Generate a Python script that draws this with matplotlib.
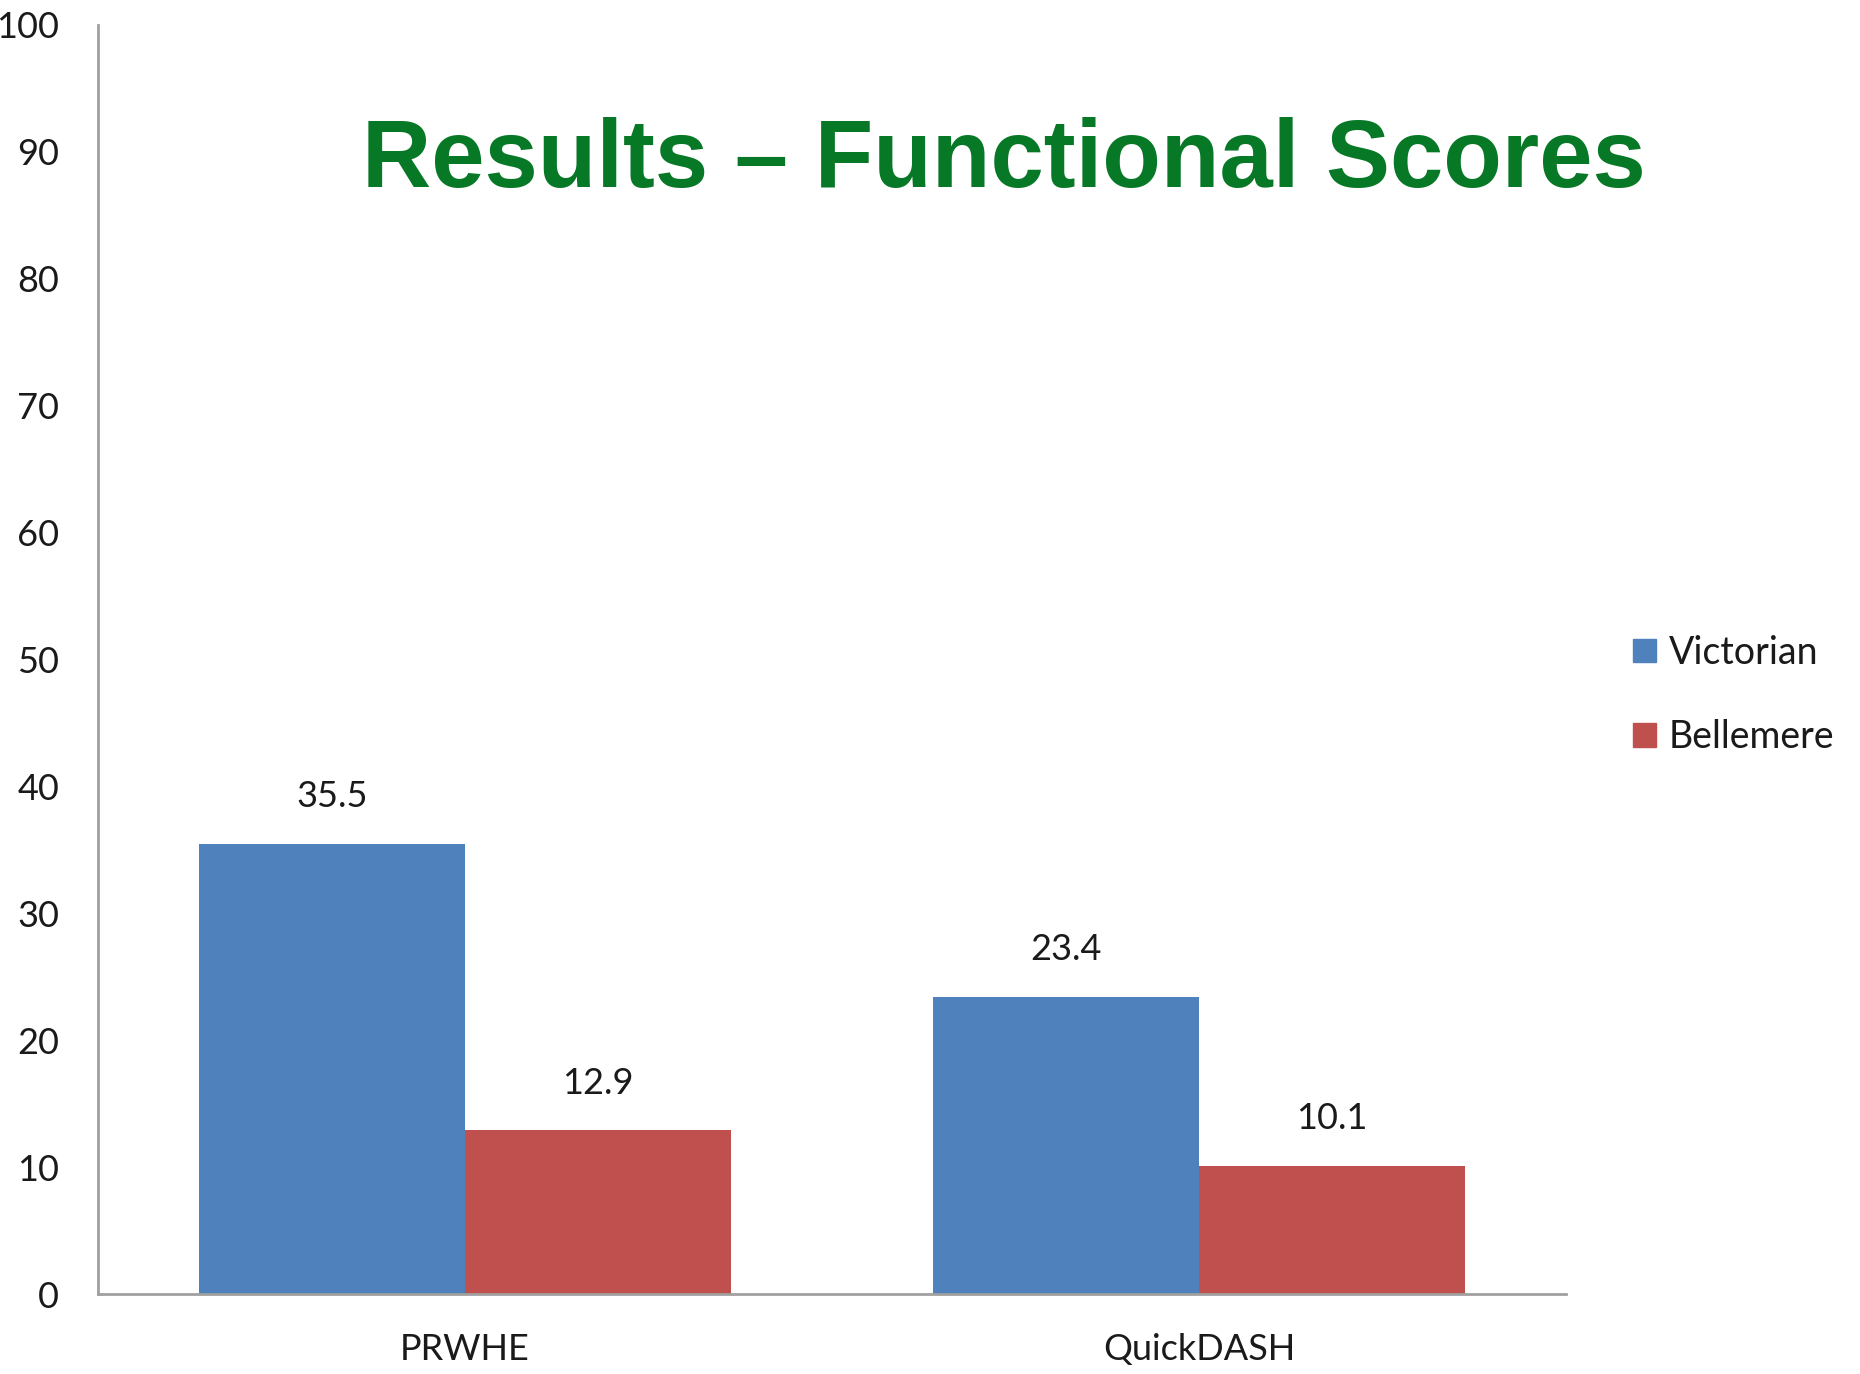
import matplotlib.pyplot as plt
import numpy as np
from matplotlib.patches import Patch

# Functional scores
categories = ['PRWHE', 'QuickDASH']
series_names = ['Victorian', 'Bellemere']
victorian = [35.5, 23.4]
bellemere = [12.9, 10.1]
colors = ['#4F81BD', '#C0504D']

plt.rcParams['font.family'] = ['Lato', 'DejaVu Sans']

fig = plt.figure(figsize=(18.6, 13.74), dpi=100)
ax = fig.add_axes([98/1860, 1 - 1294/1374, (1566 - 98)/1860, (1294 - 25)/1374])

x = np.arange(len(categories))
w = 0.3624
b1 = ax.bar(x - w/2, victorian, w, color=colors[0])
b2 = ax.bar(x + w/2, bellemere, w, color=colors[1])

for bars, vals in [(b1, victorian), (b2, bellemere)]:
    for bar, v in zip(bars, vals):
        ax.annotate(f'{v}', (bar.get_x() + bar.get_width()/2, v),
                    xytext=(0, 34), textcoords='offset points',
                    ha='center', va='center', fontsize=26, color='#1a1a1a')

ax.set_xlim(-0.5, 1.5)
ax.set_ylim(0, 100)
ax.set_yticks(range(0, 101, 10))
ax.set_xticks(x)
ax.set_xticklabels(categories)
ax.tick_params(axis='y', length=0, pad=28, labelsize=26, labelcolor='#1a1a1a')
ax.tick_params(axis='x', length=0, pad=28, labelsize=26, labelcolor='#1a1a1a')

for s in ['top', 'right']:
    ax.spines[s].set_visible(False)
for s in ['left', 'bottom']:
    ax.spines[s].set_color('#A0A0A0')
    ax.spines[s].set_linewidth(2)

fig.text(1004/1860, 1 - 162/1374, 'Results \u2013 Functional Scores',
         ha='center', va='center', fontsize=69, fontweight='bold',
         color='#077826', family=['Liberation Sans', 'DejaVu Sans'])

handles = [Patch(color=c) for c in colors]
fig.legend(handles, series_names, loc='center left',
           bbox_to_anchor=(1633/1860, 1 - 695/1374), bbox_transform=fig.transFigure,
           frameon=False, fontsize=27, handlelength=0.6, handleheight=0.6,
           handletextpad=0.35, labelspacing=1.3, borderpad=0, borderaxespad=0,
           labelcolor='#1a1a1a')

fig.savefig('out.png', dpi=100)
